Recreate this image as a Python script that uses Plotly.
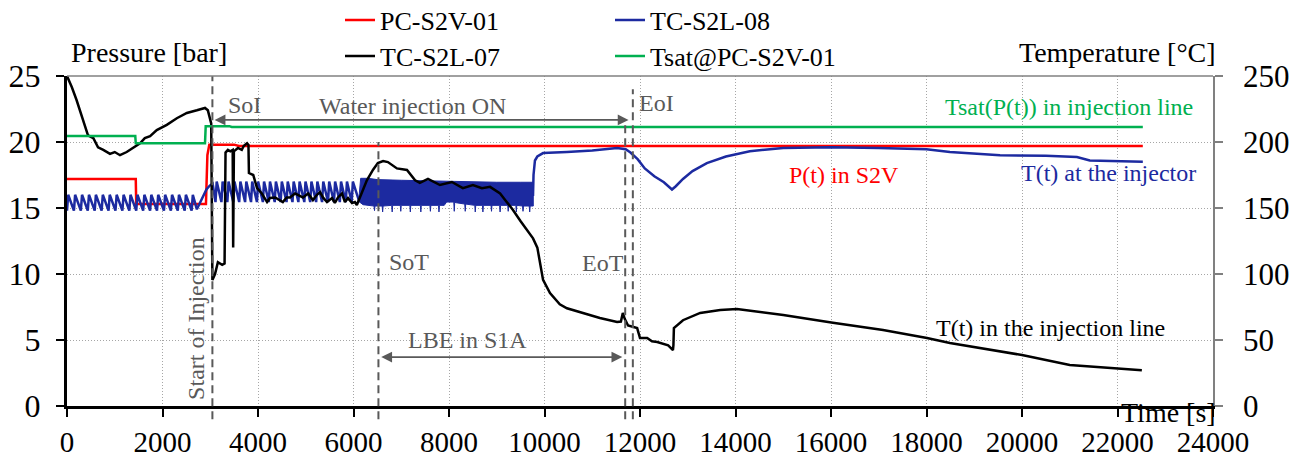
import plotly.graph_objects as go

# ---------------- data ----------------
# PC-S2V-01 pressure [bar] (left axis)
red_t = [0, 1440, 1450, 2910, 2940, 2980, 3500, 3600, 22530]
red_v = [17.2, 17.2, 15.3, 15.3, 19.0, 19.8, 19.8, 19.7, 19.7]

# Tsat@PC-S2V-01 [°C] (right axis)
green_t = [0, 1430, 1440, 2890, 2905, 3400, 3450, 22530]
green_v = [204.5, 204.5, 199.0, 199.0, 212.0, 212.0, 211.4, 211.4]

# TC-S2L-07 [°C] (right axis)
black_t = [0, 100, 200, 310, 380, 440, 550, 650, 760, 900, 1000, 1110, 1250, 1390, 1530,
           1630, 1740, 1880, 2090, 2300, 2510, 2720, 2890, 2950, 3020, 3045, 3100, 3160,
           3250, 3300, 3320, 3370, 3420, 3470, 3480, 3495, 3580, 3660, 3700, 3770, 3800,
           3810, 3900, 3980, 4080, 4190, 4250, 4360, 4450, 4520, 4600, 4670, 4775, 4840,
           4940, 5050, 5150, 5235, 5300, 5360, 5445, 5550, 5610, 5675, 5760, 5820, 5885,
           5970, 6030, 6070, 6135, 6280, 6410, 6510, 6620, 6720, 6910, 7120, 7290, 7390,
           7560, 7810, 8060, 8290, 8500, 8690, 8860, 9070, 9200, 9340, 9500, 9650, 9760,
           9850, 9970, 10115, 10320, 10470, 10800, 11160, 11520, 11600, 11640, 11680,
           11750, 11940, 12000, 12150, 12250, 12360, 12590, 12690, 12700, 12710, 12900,
           13260, 13680, 14030, 15000, 16040, 17090, 18010, 18490, 19540, 20000, 21000,
           22000, 22510]
black_v = [250, 241.7, 231.8, 219, 211, 205, 203, 196, 194, 191, 192.4, 190, 192.4, 195.4,
           199, 203, 204.5, 209, 213, 218, 222, 224, 225.8, 224, 214, 95.5, 100, 109,
           107, 108, 192, 194, 193, 194, 120, 193, 195.5, 194, 197, 199, 197.7,
           176.5, 175, 165, 161, 154.5, 157.6, 158, 156, 154.5, 158, 158, 161, 160,
           158, 161, 156, 160, 162, 158, 154.5, 157.5, 153.8, 158, 161, 154.5, 157.5,
           153.8, 154.5, 152.3, 158, 171, 179, 184, 185.5, 184.8, 180, 178.8, 171, 169,
           172, 167.4, 169.7, 165, 167.4, 165, 166, 161, 155, 148.5, 140, 133, 127,
           120, 95.5, 85.6, 77, 74, 70.5, 66.7, 63.6, 64, 70.5, 66,
           61, 59, 51.5, 51.5, 49, 48.5, 46, 42.4, 46, 59, 65,
           70.5, 72.7, 73.5, 69, 63, 57.6, 51.5, 47.7, 41, 38.6, 31,
           28.5, 27]

# TC-S2L-08 [°C] (right axis): heater cycling teeth, injection rise, dense band, tail
blue_teeth1_t = [0, 145, 290, 435, 580, 725, 870, 1015, 1160, 1305, 1450, 1595, 1740,
                 1885, 2030, 2175, 2320, 2465, 2610]
blue_teeth1_lo, blue_teeth1_hi = 148.0, 160.0
blue_rise_t = [2720, 2790, 2850, 2920, 2990, 3050]
blue_rise_v = [149, 154, 159, 164, 167, 168.5]
blue_teeth2_t = [3110, 3234, 3358, 3482, 3606, 3730, 3854, 3978, 4102, 4226, 4350, 4474,
                 4598, 4722, 4846, 4970, 5094, 5218, 5342, 5466, 5590, 5714, 5838, 5962]
blue_teeth2_lo, blue_teeth2_hi = 154.5, 170.0
blue_tail_t = [6110, 9760, 9770, 9800, 9850, 9970, 10470, 11000, 11520, 11700, 11800,
               11950, 12100, 12300, 12500, 12670, 12750, 12900, 13100, 13400, 13800,
               14300, 15000, 16000, 17000, 18000, 18490, 19540, 20500, 21150, 21420, 22530]
blue_tail_v = [156, 160, 175, 186, 189, 191.6, 192.4, 193.5, 195.5, 194.5, 192,
               187, 180, 174, 169.5, 164, 166.5, 172, 178, 184, 189,
               193, 195.5, 196, 195.5, 194.5, 192.4, 190, 189.5, 188.6, 186, 185]
band_top_t = [6110, 6150, 6300, 6500, 7000, 7500, 8000, 8500, 9000, 9500, 9765]
band_top_v = [156, 172.5, 172.5, 171.5, 171, 170.5, 170, 170, 169.5, 169.5, 169.5]
band_bot_t = [6110, 6200, 6430, 6440, 6450, 6600, 6610, 6620, 6800, 6810, 6820, 6980,
              6990, 7000, 7180, 7190, 7200, 7400, 7410, 7420, 7600, 7610, 7620, 7780,
              7790, 7800, 7900, 7950, 8100, 8110, 8120, 8150, 8330, 8340, 8350, 8540,
              8550, 8560, 8700, 8710, 8720, 8880, 8890, 8900, 9060, 9070, 9080, 9230,
              9240, 9250, 9400, 9410, 9420, 9540, 9550, 9560, 9680, 9690, 9700, 9765]
band_bot_v = [155, 152.5, 151.5, 148, 151.5, 151.5, 147, 151.5, 152, 147, 152, 152,
              147.5, 152, 152, 147, 152, 152, 147, 152, 152, 147.5, 152, 152,
              147, 152, 152, 154.5, 154.5, 147.5, 154.5, 154, 153, 147.5, 153, 152,
              147, 152, 152, 147, 152, 152, 147.5, 152, 152, 147, 152, 152,
              147.5, 152, 152, 147, 152, 151.5, 147.5, 151.5, 151.5, 147, 151.5, 151.5]

# event times [s]
event_names = ["SoI", "SoT", "EoT", "EoI"]
event_t = [3045, 6522, 11690, 11850]

x_ticks = list(range(0, 24001, 2000))

# ---------------- styles ----------------
FONT = "Liberation Serif, Times New Roman, serif"
GRAY = "#595959"
RED = "#ff0000"
BLUE = "#1c2aa0"
GREEN = "#00b050"
GRID = "#a6a6a6"

# page body has an 8px margin -> figure slightly smaller than the window
W, H = 1293, 451


def teeth(onsets, lo, hi, rise=25):
    xs, ys = [], []
    for t0 in onsets:
        xs += [t0, t0 + rise]
        ys += [lo, hi]
    return xs, ys


b1x, b1y = teeth(blue_teeth1_t, blue_teeth1_lo, blue_teeth1_hi)
b2x, b2y = teeth(blue_teeth2_t, blue_teeth2_lo, blue_teeth2_hi)
blue_x = b1x + blue_rise_t + b2x + blue_tail_t
blue_y = b1y + blue_rise_v + b2y + blue_tail_v

fig = go.Figure()
fig.add_trace(go.Scatter(x=red_t, y=red_v, mode="lines", name="PC-S2V-01",
                         line=dict(color=RED, width=2.5), legend="legend"))
fig.add_trace(go.Scatter(x=blue_x, y=blue_y, mode="lines", name="TC-S2L-08", yaxis="y2",
                         line=dict(color=BLUE, width=2.5), legend="legend2"))
fig.add_trace(go.Scatter(x=band_top_t + band_bot_t[::-1], y=band_top_v + band_bot_v[::-1],
                         mode="lines", fill="toself", fillcolor=BLUE, yaxis="y2",
                         line=dict(color=BLUE, width=1), showlegend=False, hoverinfo="skip"))
fig.add_trace(go.Scatter(x=black_t, y=black_v, mode="lines", name="TC-S2L-07", yaxis="y2",
                         line=dict(color="black", width=2.5), legend="legend3"))
fig.add_trace(go.Scatter(x=green_t, y=green_v, mode="lines", name="Tsat@PC-S2V-01", yaxis="y2",
                         line=dict(color=GREEN, width=2.5), legend="legend4"))

# event dashed lines (top in paper fraction of plot height)
event_top = [1.0, 0.80, 0.857, 0.96]
shapes = []
for t, top in zip(event_t, event_top):
    shapes.append(dict(type="line", xref="x", yref="paper", x0=t, x1=t, y0=-0.04, y1=top,
                       line=dict(color=GRAY, width=2, dash="8px,5px"), layer="above"))
# top border
shapes.append(dict(type="line", xref="paper", yref="paper", x0=0, x1=1, y0=1, y1=1,
                   line=dict(color="#808080", width=1.5)))

ann_font = dict(family=FONT, size=24, color=GRAY)
annotations = [
    dict(text="Pressure [bar]", xref="paper", yref="paper", x=0.002, y=1.07,
         xanchor="left", yanchor="middle", showarrow=False, font=dict(family=FONT, size=28, color="black")),
    dict(text="Temperature [°C]", xref="paper", yref="paper", x=1.004, y=1.07,
         xanchor="right", yanchor="middle", showarrow=False, font=dict(family=FONT, size=28, color="black")),
    dict(text="Time [s]", xref="paper", yref="paper", x=1.004, y=-0.021,
         xanchor="right", yanchor="middle", showarrow=False, font=dict(family=FONT, size=28, color="black")),
    dict(text="SoI", x=3330, y=22.8, xanchor="left", yanchor="middle", showarrow=False, font=ann_font),
    dict(text="Water injection ON", x=5235, y=22.73, xanchor="left", yanchor="middle",
         showarrow=False, font=ann_font),
    dict(text="EoI", x=11937, y=22.95, xanchor="left", yanchor="middle", showarrow=False, font=ann_font),
    dict(text="SoT", x=6700, y=10.9, xanchor="left", yanchor="middle", showarrow=False, font=ann_font),
    dict(text="EoT", x=10743, y=10.83, xanchor="left", yanchor="middle", showarrow=False, font=ann_font),
    dict(text="LBE in S1A", x=8377, y=5.0, xanchor="center", yanchor="middle", showarrow=False, font=ann_font),
    dict(text="Start of Injection", x=2700, y=6.67, xanchor="center", yanchor="middle",
         textangle=-90, showarrow=False, font=ann_font),
    dict(text="Tsat(P(t)) in injection line", x=23623, y=226.5, yref="y2", xanchor="right",
         yanchor="middle", showarrow=False, font=dict(family=FONT, size=24, color=GREEN)),
    dict(text="P(t) in S2V", x=15079, y=175, yref="y2", xanchor="left", yanchor="middle",
         showarrow=False, font=dict(family=FONT, size=24, color=RED)),
    dict(text="T(t) at the injector", x=23686, y=176.5, yref="y2", xanchor="right",
         yanchor="middle", showarrow=False, font=dict(family=FONT, size=24, color=BLUE)),
    dict(text="T(t) in the injection line", x=18150, y=59, yref="y2", xanchor="left",
         yanchor="middle", showarrow=False, font=dict(family=FONT, size=24, color="black")),
    # double arrows
    dict(text="", x=11760, y=21.67, ax=3060, ay=21.67, axref="x", ayref="y", showarrow=True,
         arrowside="end+start", arrowhead=2, arrowsize=1.2, arrowwidth=1.8, arrowcolor=GRAY,
         standoff=0, startstandoff=0),
    dict(text="", x=11630, y=3.71, ax=6550, ay=3.71, axref="x", ayref="y", showarrow=True,
         arrowside="end+start", arrowhead=2, arrowsize=1.2, arrowwidth=1.8, arrowcolor=GRAY,
         standoff=0, startstandoff=0),
]

leg_common = dict(bgcolor="rgba(0,0,0,0)", font=dict(family=FONT, size=26, color="black"),
                  xref="container", yref="container", xanchor="left", yanchor="middle",
                  orientation="h")

fig.update_layout(
    width=W, height=H, autosize=False,
    margin=dict(l=59, r=88, t=68, b=53, autoexpand=False),
    paper_bgcolor="white", plot_bgcolor="white",
    showlegend=True,
    legend=dict(x=332 / W, y=1 - 12 / H, **leg_common),
    legend2=dict(x=602 / W, y=1 - 12 / H, **leg_common),
    legend3=dict(x=332 / W, y=1 - 48 / H, **leg_common),
    legend4=dict(x=602 / W, y=1 - 48 / H, **leg_common),
    xaxis=dict(range=[0, 24000], tickvals=x_ticks, ticktext=[str(v) for v in x_ticks],
               showgrid=True, gridcolor=GRID, griddash="1px,2px", gridwidth=1,
               showline=True, linecolor="black", linewidth=3, zeroline=False,
               ticks="outside", ticklen=8, tickwidth=2, tickcolor="black",
               tickfont=dict(family=FONT, size=29, color="black"), ticklabelstandoff=0),
    yaxis=dict(range=[0, 25], dtick=5, showgrid=True, gridcolor=GRID, griddash="1px,2px",
               gridwidth=1, showline=True, linecolor="black", linewidth=3, zeroline=False,
               ticks="outside", ticklen=8, tickwidth=2, tickcolor="black",
               tickfont=dict(family=FONT, size=32, color="black"), ticklabelstandoff=9),
    yaxis2=dict(range=[0, 250], dtick=50, overlaying="y", side="right", showgrid=False,
                showline=True, linecolor="#808080", linewidth=1.5, zeroline=False,
                ticks="outside", ticklen=8, tickwidth=1.5, tickcolor="#808080",
                tickfont=dict(family=FONT, size=31, color="black"), ticklabelstandoff=14),
    shapes=shapes,
    annotations=annotations,
)

fig.write_html("out.html")
